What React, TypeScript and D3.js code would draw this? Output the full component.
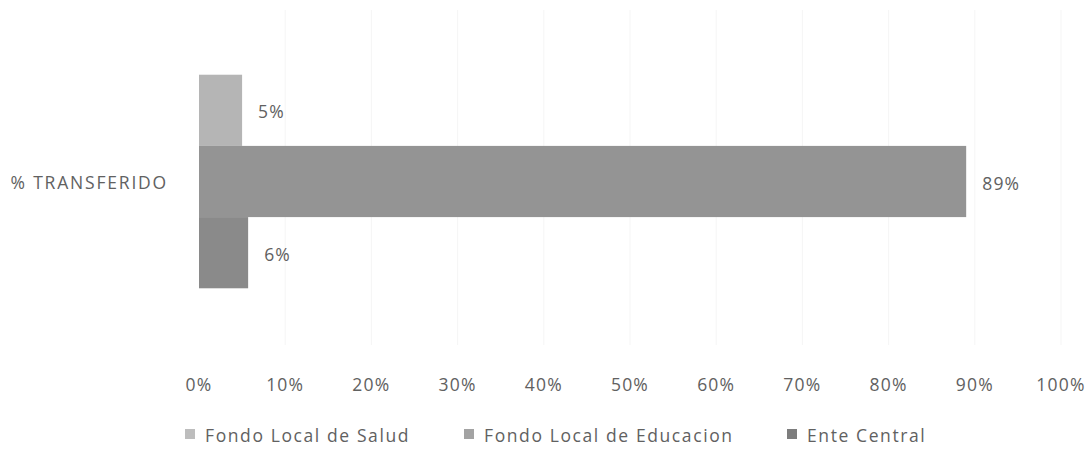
import { useEffect, useRef } from "react";
import * as d3 from "d3";

const categories = ["% TRANSFERIDO"];
const seriesNames = ["Fondo Local de Salud", "Fondo Local de Educacion", "Ente Central"];
const seriesValues = [0.05, 0.89, 0.057];
const seriesLabels = ["5%", "89%", "6%"];
const seriesColors = ["#b5b5b5", "#949494", "#8a8a8a"];
const legendColors = ["#bdbdbd", "#a3a3a3", "#7d7d7d"];
const xTicks = [0, 0.1, 0.2, 0.3, 0.4, 0.5, 0.6, 0.7, 0.8, 0.9, 1];

const W = 1092;
const H = 453;
const FONT = "'Open Sans', 'DejaVu Sans', sans-serif";
const TEXT = "#616161";
const FS = 17.5;
const LS = 1.6;

export default function App() {
  const svgRef = useRef<SVGSVGElement | null>(null);

  useEffect(() => {
    const svg = d3.select(svgRef.current);
    svg.selectAll("*").remove();

    const x = d3.scaleLinear().domain([0, 1]).range([199, 1061]);
    const y = d3.scaleBand<string>().domain(categories).range([10, 353]).paddingOuter(0.303);
    const ySub = d3.scaleBand<string>().domain(seriesNames).range([0, y.bandwidth()]);

    // faint gridlines
    svg
      .append("g")
      .selectAll("line")
      .data(xTicks.slice(1))
      .enter()
      .append("line")
      .attr("x1", (d) => x(d))
      .attr("x2", (d) => x(d))
      .attr("y1", 10)
      .attr("y2", 345)
      .attr("stroke", "#f5f5f5")
      .attr("stroke-width", 1);

    // tick labels
    svg
      .append("g")
      .selectAll("text")
      .data(xTicks)
      .enter()
      .append("text")
      .attr("x", (d) => x(d))
      .attr("y", 391)
      .attr("text-anchor", "middle")
      .attr("font-family", FONT)
      .attr("font-size", FS)
      .attr("letter-spacing", 1.2)
      .attr("fill", TEXT)
      .text((d) => `${Math.round(d * 100)}%`);

    // category label
    svg
      .append("g")
      .selectAll("text")
      .data(categories)
      .enter()
      .append("text")
      .attr("x", 168)
      .attr("y", (d) => (y(d) ?? 0) + y.bandwidth() / 2 + 7)
      .attr("text-anchor", "end")
      .attr("font-family", FONT)
      .attr("font-size", FS)
      .attr("letter-spacing", 1.8)
      .attr("fill", TEXT)
      .text((d) => d);

    const top = y(categories[0]) ?? 0;
    const bars = svg.append("g");
    seriesNames.forEach((name, i) => {
      const by = top + (ySub(name) ?? 0);
      bars
        .append("rect")
        .attr("x", x(0))
        .attr("y", by)
        .attr("width", x(seriesValues[i]) - x(0))
        .attr("height", ySub.bandwidth())
        .attr("fill", seriesColors[i]);
      bars
        .append("text")
        .attr("x", x(seriesValues[i]) + 16)
        .attr("y", by + ySub.bandwidth() / 2 + 8)
        .attr("font-family", FONT)
        .attr("font-size", FS)
        .attr("letter-spacing", 1.2)
        .attr("fill", TEXT)
        .text(seriesLabels[i]);
    });

    // legend
    const legendX = [185, 464, 787];
    const legend = svg.append("g");
    seriesNames.forEach((name, i) => {
      legend
        .append("rect")
        .attr("x", legendX[i])
        .attr("y", 429)
        .attr("width", 10)
        .attr("height", 10)
        .attr("fill", legendColors[i]);
      legend
        .append("text")
        .attr("x", legendX[i] + 20)
        .attr("y", 442)
        .attr("font-family", FONT)
        .attr("font-size", FS)
        .attr("letter-spacing", LS)
        .attr("fill", TEXT)
        .text(name);
    });
  }, []);

  return (
    <svg
      ref={svgRef}
      width={W}
      height={H}
      style={{ position: "absolute", left: 0, top: 0, background: "#fff" }}
    />
  );
}
